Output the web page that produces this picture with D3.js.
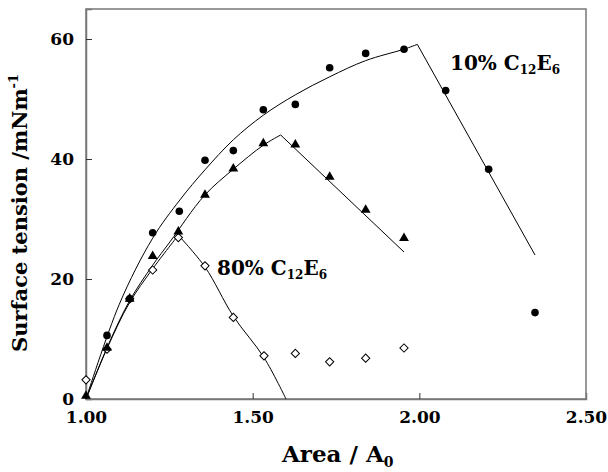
<!DOCTYPE html>
<html>
<head>
<meta charset="utf-8">
<script src="https://cdn.jsdelivr.net/npm/d3@7"></script>
<style>
  body { margin: 0; background: #fff; }
  text { font-family: "DejaVu Serif", "Liberation Serif", serif; font-weight: bold; }
</style>
</head>
<body>
<div id="chart"></div>
<script>
// measured points, area ratio vs surface tension
const circleArea = [1.063, 1.131, 1.20, 1.28, 1.357, 1.442, 1.532, 1.628, 1.731, 1.839, 1.954, 2.079, 2.208, 2.347];
const circleTension = [10.6, 16.7, 27.7, 31.3, 39.8, 41.4, 48.2, 49.1, 55.2, 57.6, 58.3, 51.4, 38.3, 14.4];

const triArea = [1.0, 1.063, 1.131, 1.20, 1.277, 1.357, 1.442, 1.532, 1.628, 1.731, 1.839, 1.954];
const triTension = [0.5, 8.5, 16.7, 23.8, 27.9, 34.0, 38.4, 42.6, 42.4, 37.0, 31.5, 26.8];

const diaArea = [1.0, 1.063, 1.131, 1.20, 1.277, 1.357, 1.442, 1.534, 1.628, 1.731, 1.839, 1.954];
const diaTension = [3.2, 8.3, 16.7, 21.5, 26.9, 22.2, 13.6, 7.2, 7.6, 6.2, 6.8, 8.5];

// fitted lines (rising part + falling part)
const fit10Rise = [[1.0, 0], [1.1, 15.8], [1.2, 26.8], [1.282, 33.2], [1.357, 38.2], [1.442, 43.2], [1.532, 47.3], [1.628, 50.7], [1.731, 53.7], [1.839, 56.4], [1.954, 58.3], [1.994, 59.1]];
const fit10Fall = [[1.994, 59.1], [2.347, 24.0]];
const fitMidRise = [[1.0, 0], [1.065, 8.8], [1.13, 16.3], [1.2, 22.3], [1.252, 26.2], [1.355, 33.9], [1.442, 38.3], [1.532, 42.3], [1.584, 44.0]];
const fitMidFall = [[1.584, 44.0], [1.954, 24.5]];
const fit80Rise = [[1.0, 0], [1.063, 8.4], [1.13, 16.0], [1.2, 21.7], [1.277, 27.3]];
const fit80Fall = [[1.277, 27.3], [1.357, 22.0], [1.442, 13.8], [1.534, 6.9], [1.60, 0]];

const xTicks = [1.0, 1.5, 2.0, 2.5];
const yTicks = [0, 20, 40, 60];

const width = 608, height = 472;
const margin = { top: 9, right: 22, bottom: 73, left: 86 };
const innerW = width - margin.left - margin.right;
const innerH = height - margin.top - margin.bottom;

const svg = d3.select("#chart").append("svg")
  .attr("width", width)
  .attr("height", height);

const g = svg.append("g").attr("transform", `translate(${margin.left},${margin.top})`);

const x = d3.scaleLinear().domain([1.0, 2.5]).range([0, innerW]);
const y = d3.scaleLinear().domain([0, 65]).range([innerH, 0]);

// frame
g.append("rect")
  .attr("width", innerW)
  .attr("height", innerH)
  .attr("fill", "none")
  .attr("stroke", "#777")
  .attr("stroke-width", 1.5);

// axes with inward ticks
const xAxis = g.append("g")
  .attr("transform", `translate(0,${innerH})`)
  .call(d3.axisBottom(x).tickValues(xTicks).tickFormat(d3.format(".2f")).tickSize(-6).tickPadding(12));
const yAxis = g.append("g")
  .call(d3.axisLeft(y).tickValues(yTicks).tickSize(-6).tickPadding(12));

[xAxis, yAxis].forEach(a => {
  a.select(".domain").attr("stroke", "#777").attr("stroke-width", 1.5);
  a.selectAll(".tick line").attr("stroke", "#333");
  a.selectAll(".tick text")
    .attr("font-family", "DejaVu Serif, serif")
    .attr("font-weight", "bold")
    .attr("font-size", 17)
    .attr("fill", "#000");
});
xAxis.selectAll(".tick").filter(d => d === 1.0 || d === 2.5).select("line").remove();
yAxis.selectAll(".tick").filter(d => d === 0).select("line").remove();

// fitted lines
const line = d3.line().x(d => x(d[0])).y(d => y(d[1]));
const smooth = d3.line().x(d => x(d[0])).y(d => y(d[1])).curve(d3.curveCatmullRom);

[fit10Rise, fitMidRise, fit80Rise, fit80Fall].forEach(pts => {
  g.append("path").datum(pts).attr("d", smooth)
    .attr("fill", "none").attr("stroke", "#000").attr("stroke-width", 1);
});
[fit10Fall, fitMidFall].forEach(pts => {
  g.append("path").datum(pts).attr("d", line)
    .attr("fill", "none").attr("stroke", "#000").attr("stroke-width", 1);
});

// markers
g.selectAll(".dia").data(diaArea).enter().append("path")
  .attr("class", "dia")
  .attr("d", d3.symbol(d3.symbolSquare, 34))
  .attr("transform", (d, i) => `translate(${x(d)},${y(diaTension[i])}) rotate(45)`)
  .attr("fill", "#fff").attr("stroke", "#000").attr("stroke-width", 1);

g.selectAll(".tri").data(triArea).enter().append("path")
  .attr("class", "tri")
  .attr("d", d3.symbol(d3.symbolTriangle, 42))
  .attr("transform", (d, i) => `translate(${x(d)},${y(triTension[i])})`)
  .attr("fill", "#000");

g.selectAll(".dot").data(circleArea).enter().append("circle")
  .attr("class", "dot")
  .attr("cx", d => x(d))
  .attr("cy", (d, i) => y(circleTension[i]))
  .attr("r", 3.8)
  .attr("fill", "#000");

// series labels
function label(px, py, pct) {
  const t = svg.append("text").attr("x", px).attr("y", py).attr("font-size", 20).attr("fill", "#000");
  t.append("tspan").text(pct + " C");
  t.append("tspan").attr("font-size", 12).attr("dy", 4).text("12");
  t.append("tspan").attr("dy", -4).text("E");
  t.append("tspan").attr("font-size", 12).attr("dy", 4).text("6");
}
label(450, 70, "10%");
label(217, 275, "80%");

// axis titles
const xt = svg.append("text")
  .attr("x", 282).attr("y", 462)
  .attr("font-size", 23);
xt.append("tspan").text("Area / A");
xt.append("tspan").attr("font-size", 14).attr("dy", 5).text("0");

const yt = svg.append("text")
  .attr("transform", "translate(27,352) rotate(-90)")
  .attr("font-size", 21);
yt.append("tspan").text("Surface tension /mNm");
yt.append("tspan").attr("font-size", 13).attr("dy", -9).text("-1");
</script>
</body>
</html>
